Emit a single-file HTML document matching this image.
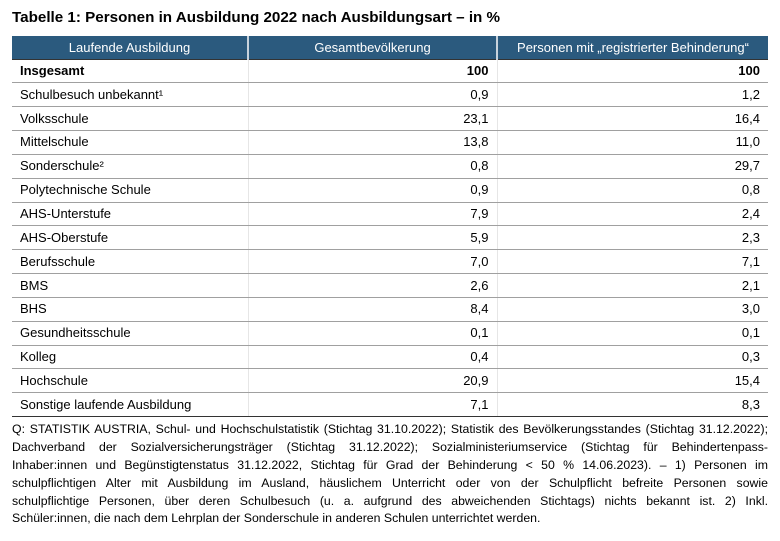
<!DOCTYPE html>
<html><head><meta charset="utf-8"><style>
html,body{margin:0;padding:0;background:#fff;width:780px;height:541px;overflow:hidden}
body{font-family:"Liberation Sans",sans-serif;color:#000;position:relative}
.t{position:absolute;left:12px;top:9px;font-weight:bold;font-size:15.2px;white-space:nowrap}
table{position:absolute;left:12px;top:36px;width:756px;border-collapse:collapse;font-size:13px}
th{background:#2b5a7e;color:#fff;font-weight:normal;height:23px;padding:0;text-align:center;font-size:13px;box-sizing:border-box}
th+th{border-left:2px solid #c8d3dd}
td{height:23.85px;padding:0 8px;border-bottom:1px solid #a0a0a0;box-sizing:border-box;line-height:14px}
td.n{text-align:right}
td+td{border-left:1px solid #e6e6e6}
tr.b td{font-weight:bold}
tr.last td{border-bottom:1.5px solid #333}
tr.f td{border-top:1.5px solid #333}
.fn{position:absolute;left:12px;width:756px;font-size:12.3px;line-height:18px;white-space:nowrap;text-align:justify;text-align-last:justify}
.fn.l{text-align-last:left}
</style></head><body>
<div class="t">Tabelle 1: Personen in Ausbildung 2022 nach Ausbildungsart – in %</div>
<table>
<tr><th style="width:236px">Laufende Ausbildung</th><th style="width:249px">Gesamtbevölkerung</th><th>Personen mit „registrierter Behinderung“</th></tr>
<tr class="b f"><td>Insgesamt</td><td class="n">100</td><td class="n">100</td></tr>
<tr><td>Schulbesuch unbekannt¹</td><td class="n">0,9</td><td class="n">1,2</td></tr>
<tr><td>Volksschule</td><td class="n">23,1</td><td class="n">16,4</td></tr>
<tr><td>Mittelschule</td><td class="n">13,8</td><td class="n">11,0</td></tr>
<tr><td>Sonderschule²</td><td class="n">0,8</td><td class="n">29,7</td></tr>
<tr><td>Polytechnische Schule</td><td class="n">0,9</td><td class="n">0,8</td></tr>
<tr><td>AHS-Unterstufe</td><td class="n">7,9</td><td class="n">2,4</td></tr>
<tr><td>AHS-Oberstufe</td><td class="n">5,9</td><td class="n">2,3</td></tr>
<tr><td>Berufsschule</td><td class="n">7,0</td><td class="n">7,1</td></tr>
<tr><td>BMS</td><td class="n">2,6</td><td class="n">2,1</td></tr>
<tr><td>BHS</td><td class="n">8,4</td><td class="n">3,0</td></tr>
<tr><td>Gesundheitsschule</td><td class="n">0,1</td><td class="n">0,1</td></tr>
<tr><td>Kolleg</td><td class="n">0,4</td><td class="n">0,3</td></tr>
<tr><td>Hochschule</td><td class="n">20,9</td><td class="n">15,4</td></tr>
<tr class="last"><td>Sonstige laufende Ausbildung</td><td class="n">7,1</td><td class="n">8,3</td></tr>
</table>
<div class="fn" style="top:420px">Q: STATISTIK AUSTRIA, Schul- und Hochschulstatistik (Stichtag 31.10.2022); Statistik des Bevölkerungsstandes (Stichtag 31.12.2022);</div>
<div class="fn" style="top:438px">Dachverband der Sozialversicherungsträger (Stichtag 31.12.2022); Sozialministeriumservice (Stichtag für Behindertenpass-</div>
<div class="fn" style="top:456px">Inhaber:innen und Begünstigtenstatus 31.12.2022, Stichtag für Grad der Behinderung &lt; 50 % 14.06.2023). – 1) Personen im</div>
<div class="fn" style="top:474px">schulpflichtigen Alter mit Ausbildung im Ausland, häuslichem Unterricht oder von der Schulpflicht befreite Personen sowie</div>
<div class="fn" style="top:492px">schulpflichtige Personen, über deren Schulbesuch (u. a. aufgrund des abweichenden Stichtags) nichts bekannt ist. 2) Inkl.</div>
<div class="fn l" style="top:509px">Schüler:innen, die nach dem Lehrplan der Sonderschule in anderen Schulen unterrichtet werden.</div>
</body></html>
